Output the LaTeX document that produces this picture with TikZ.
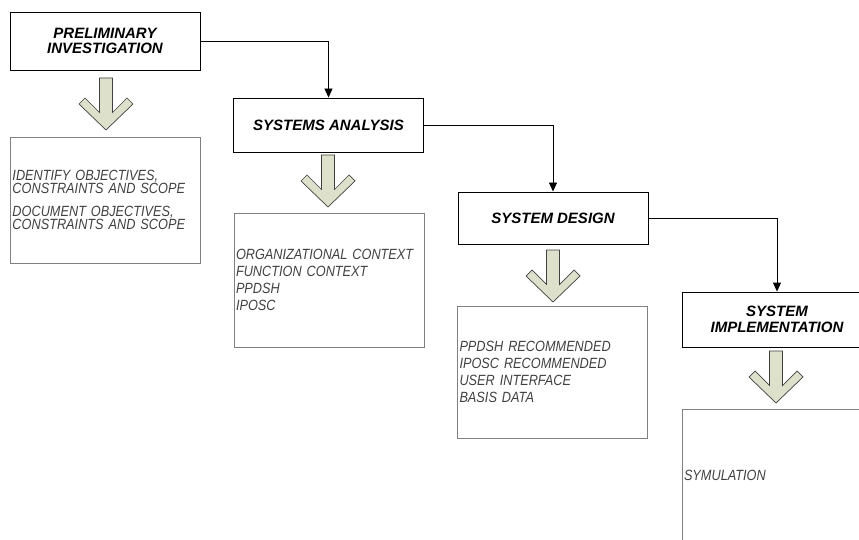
\documentclass[tikz,border=0pt]{standalone}
\usepackage{fontspec}
\setmainfont{Liberation Sans}
\newfontfamily\notefont[FakeStretch=0.86]{Liberation Sans}
\usetikzlibrary{arrows.meta}

\definecolor{arrowfill}{RGB}{221,225,203}
\definecolor{notegray}{RGB}{64,64,64}

\begin{document}
\begin{tikzpicture}[x=1pt,y=-1pt,>={Triangle[length=9pt,width=8pt]},
  line width=0.9pt,
  main node/.style={rectangle,draw=black,minimum width=190pt,align=center,
    font=\fontsize{15}{15.5}\selectfont\bfseries\itshape},
  note node/.style={rectangle,draw=gray,text width=186pt,inner xsep=2pt,align=left,
    text=notegray,font=\notefont\fontsize{14.8}{16.8}\selectfont\itshape},
  block arrow/.style={fill=arrowfill,draw=darkgray,line width=0.7pt},
  downarr/.pic={
    \filldraw[block arrow] (-6.5,-52) -- (-6.5,-17.5) -- (-21,-32) -- (-27,-26) -- (0,0)
      -- (27,-26) -- (21,-32) -- (6.5,-17.5) -- (6.5,-52) -- cycle;}]

    \useasboundingbox (0,0) rectangle (859,540);
    \clip (0,0) rectangle (859,540);

    % stages
    \node[main node,minimum height=58pt] (prelim) at (105,41) {PRELIMINARY\\INVESTIGATION};
    \node[main node,minimum height=54pt] (analysis) at (328.5,125) {SYSTEMS ANALYSIS};
    \node[main node,minimum height=52pt] (design) at (553,218) {SYSTEM DESIGN};
    \node[main node,minimum height=55pt] (impl) at (777,319.5) {SYSTEM\\IMPLEMENTATION};

    \draw[->] (prelim.east) -| (analysis.north);
    \draw[->] (analysis.east) -| (design.north);
    \draw[->] (design.east) -| (impl.north);

    % tasks of each stage
    \node[note node,minimum height=126pt,font=\notefont\fontsize{14.8}{13.5}\selectfont\itshape] (prelimtasks) at (105.5,200)
      {IDENTIFY OBJECTIVES,\\CONSTRAINTS AND SCOPE\\[9pt]DOCUMENT OBJECTIVES,\\CONSTRAINTS AND SCOPE};
    \node[note node,minimum height=134pt] (analysistasks) at (329,280)
      {ORGANIZATIONAL CONTEXT\\FUNCTION CONTEXT\\PPDSH\\IPOSC};
    \node[note node,minimum height=132pt] (designtasks) at (552.5,372)
      {PPDSH RECOMMENDED\\IPOSC RECOMMENDED\\USER INTERFACE\\BASIS DATA};
    \node[note node,minimum height=133pt] (impltasks) at (777,475.5) {SYMULATION};

    \pic at (106,130) {downarr};
    \pic at (328,207) {downarr};
    \pic at (553,302) {downarr};
    \pic at (776,403) {downarr};

\end{tikzpicture}
\end{document}
